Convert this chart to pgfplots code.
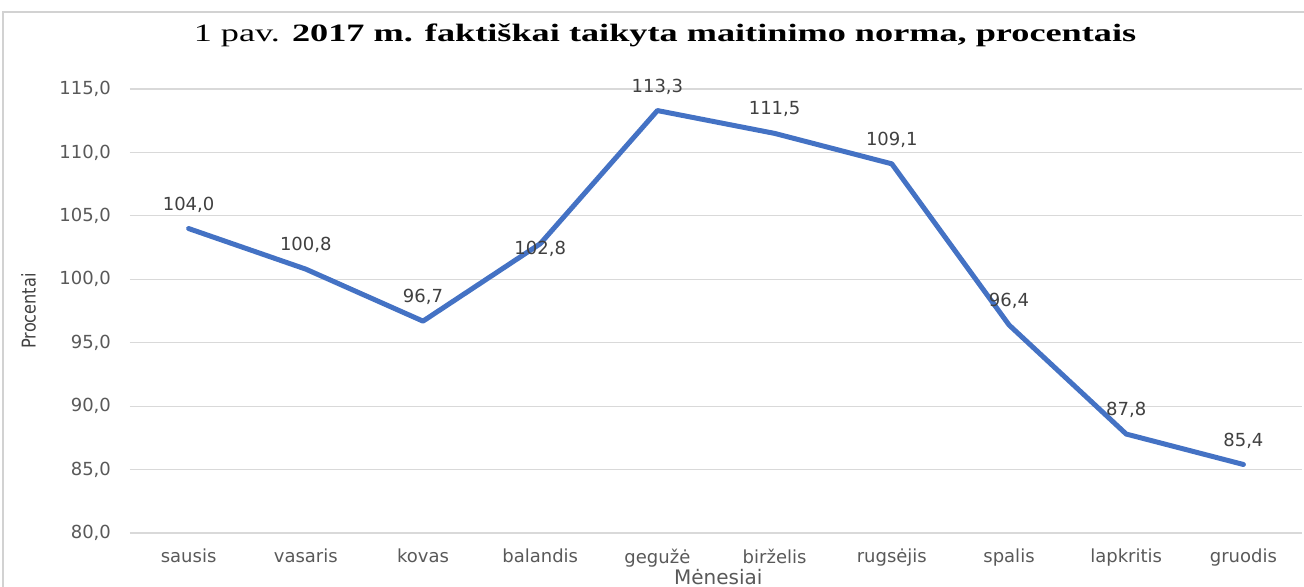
\documentclass[border=0pt]{standalone}
\usepackage{fontspec}
\usepackage{pgfplots}
\pgfplotsset{compat=1.18}
\setmainfont{DejaVu Sans}
\newfontfamily\titlefont{Liberation Serif}
\newfontfamily\condfont[FakeStretch=0.85]{DejaVu Sans}
\definecolor{lineblue}{HTML}{4472C4}
\definecolor{gridgray}{HTML}{D9D9D9}
\definecolor{txtgray}{HTML}{595959}
\definecolor{lblgray}{HTML}{404040}
\begin{document}
\begin{tikzpicture}[x=1pt,y=1pt]
\useasboundingbox (-65,-27) rectangle (587,266.5);
\draw[gray!35, line width=1pt] (-63.5,-40) rectangle (600,260.5);
\node[font=\titlefont\fontsize{12.5}{14}\selectfont, inner sep=0pt] at (267.5,249) {\scalebox{1.45}[1]{1 pav. \textbf{2017 m. faktiškai taikyta maitinimo norma, procentais}}};
\begin{axis}[at={(0,0)}, anchor=south west, scale only axis,
  width=586pt, height=222pt,
  xmin=-0.5, xmax=9.5, ymin=80, ymax=115,
  ytick={80,85,...,115}, xtick={0,...,9},
  xticklabels={sausis,vasaris,kovas,balandis,gegužė,birželis,rugsėjis,spalis,lapkritis,gruodis},
  ymajorgrids, grid style={gridgray, line width=0.6pt},
  axis line style={draw=none}, major tick length=0pt,
  /pgf/number format/assume math mode=true,
  tick label style={font=\fontsize{9}{10}\selectfont, text=txtgray},
  yticklabel style={/pgf/number format/fixed, /pgf/number format/fixed zerofill, /pgf/number format/precision=1, /pgf/number format/use comma, xshift=-6pt},
  xticklabel style={yshift=-4.5pt},
  ylabel={Procentai},
  ylabel style={at={(axis description cs:-0.0866,0.5)}, rotate=0, anchor=center, font=\condfont\fontsize{9.5}{11}\selectfont, text=lblgray},
  xlabel={Mėnesiai},
  xlabel style={at={(axis description cs:0.502,-0.099)}, anchor=center, font=\fontsize{10}{11}\selectfont, text=txtgray},
  clip=false,
]
\addplot[lineblue, line width=2.5pt, mark=none, line join=round, line cap=round]
  coordinates {(0,104.0) (1,100.8) (2,96.7) (3,102.8) (4,113.3) (5,111.5) (6,109.1) (7,96.4) (8,87.8) (9,85.4)};
\addplot[draw=none, mark=none, nodes near coords,
  every node near coord/.append style={anchor=center, yshift=12pt, font=\fontsize{9}{10}\selectfont, text=lblgray,
    /pgf/number format/fixed, /pgf/number format/fixed zerofill, /pgf/number format/precision=1, /pgf/number format/use comma}]
  coordinates {(0,104.0) (1,100.8) (2,96.7) (4,113.3) (5,111.5) (6,109.1) (7,96.4) (8,87.8) (9,85.4)};
\addplot[draw=none, mark=none, nodes near coords,
  every node near coord/.append style={anchor=center, yshift=-2.5pt, font=\fontsize{9}{10}\selectfont, text=lblgray,
    /pgf/number format/fixed, /pgf/number format/fixed zerofill, /pgf/number format/precision=1, /pgf/number format/use comma}]
  coordinates {(3,102.8)};
\end{axis}
\end{tikzpicture}
\end{document}
